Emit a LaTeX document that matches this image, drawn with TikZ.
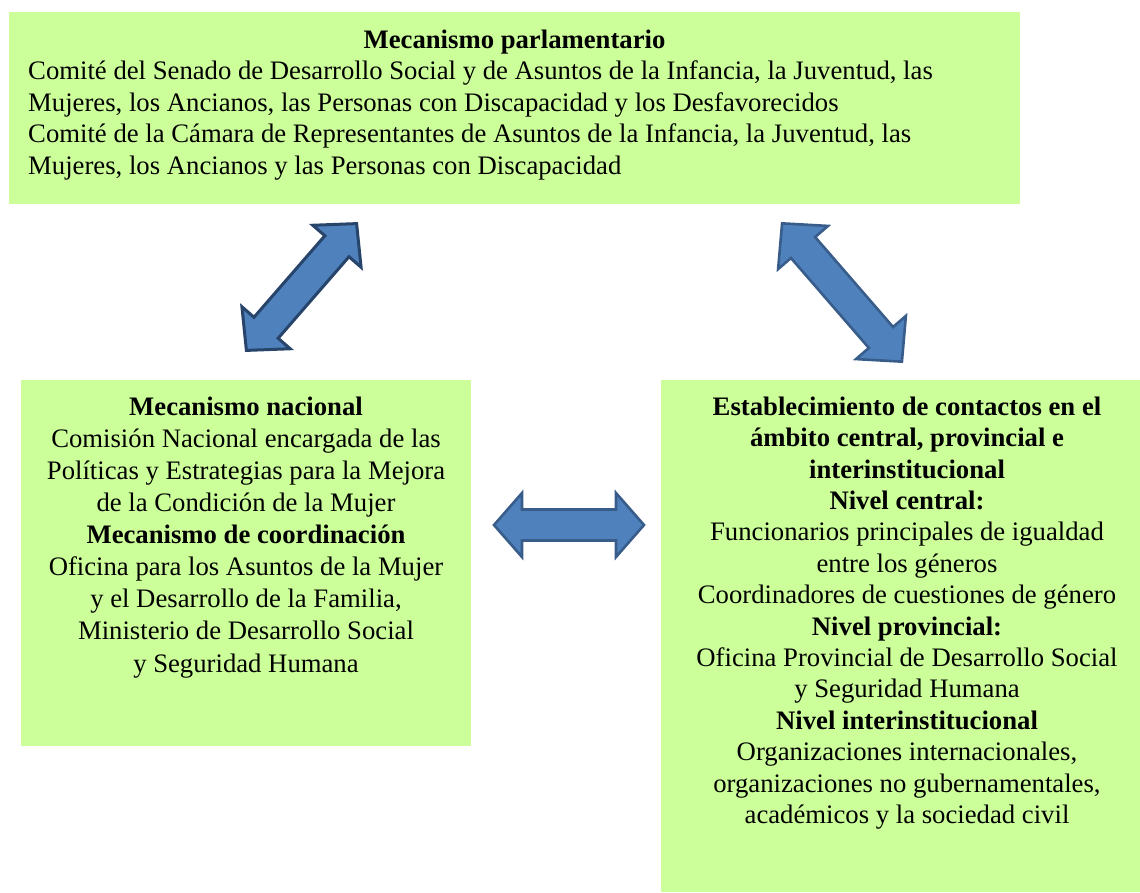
\documentclass[tikz,border=0pt]{standalone}
\usepackage{fontspec}
\setmainfont{Liberation Serif}
\definecolor{boxgreen}{HTML}{CCFF99}
\definecolor{arrowblue}{HTML}{4F81BD}
\definecolor{arrowedge}{HTML}{385D8A}
\definecolor{arrowedgedark}{HTML}{27446A}
\tikzset{
  greenbox/.style={fill=boxgreen, draw=none, inner sep=0pt, outer sep=0pt, anchor=north west},
  boxtext/.style={inner sep=0pt, align=center, anchor=north},
  blockarrow/.style={fill=arrowblue, draw=arrowedge, line width=2.6pt, line join=miter},
}
% #1 x, #2 y, #3 angle, #4 length, #5 head length, #6 head half width, #7 shaft half width, #8 extra style
\newcommand{\mydblarrow}[8]{%
  \begin{scope}[shift={(#1,#2)}, rotate=#3]
    \draw[blockarrow,#8] ({-#4/2},0) -- ({-#4/2+#5},#6) -- ({-#4/2+#5},#7) -- ({#4/2-#5},#7)
      -- ({#4/2-#5},#6) -- ({#4/2},0) -- ({#4/2-#5},-#6) -- ({#4/2-#5},-#7)
      -- ({-#4/2+#5},-#7) -- ({-#4/2+#5},-#6) -- cycle;
  \end{scope}}
\begin{document}
\begin{tikzpicture}[x=1pt, y=-1pt]
\useasboundingbox (0,0) rectangle (1140,892);

% boxes
\node[greenbox, minimum width=1011pt, minimum height=192pt] (topbox) at (9,12) {};
\node[greenbox, minimum width=450pt, minimum height=366pt] (leftbox) at (21,380) {};
\node[greenbox, minimum width=479pt, minimum height=512pt] (rightbox) at (661,380) {};

% top box text
\node[boxtext, font=\fontsize{26.7}{31.5}\selectfont] (toptitle) at (514.5,26)
  {\rule{0pt}{22pt}\textbf{Mecanismo parlamentario}};
\node[inner sep=0pt, align=left, anchor=north west, font=\fontsize{26.7}{31.5}\selectfont] (topbody) at (28,57.5)
  {\rule{0pt}{22pt}Comité del Senado de Desarrollo Social y de Asuntos de la Infancia, la Juventud, las\\
   Mujeres, los Ancianos, las Personas con Discapacidad y los Desfavorecidos\\
   Comité de la Cámara de Representantes de Asuntos de la Infancia, la Juventud, las\\
   Mujeres, los Ancianos y las Personas con Discapacidad};

% left box text
\node[boxtext, font=\fontsize{26.7}{32.1}\selectfont] (lefttext) at (246,393)
  {\rule{0pt}{22pt}\textbf{Mecanismo nacional}\\
   Comisión Nacional encargada de las\\
   Políticas y Estrategias para la Mejora\\
   de la Condición de la Mujer\\
   \textbf{Mecanismo de coordinación}\\
   Oficina para los Asuntos de la Mujer\\
   y el Desarrollo de la Familia,\\
   Ministerio de Desarrollo Social\\
   y Seguridad Humana};

% right box text
\node[boxtext, font=\fontsize{26.7}{31.4}\selectfont] (righttext) at (907,393)
  {\rule{0pt}{22pt}\textbf{Establecimiento de contactos en el}\\
   \textbf{ámbito central, provincial e}\\
   \textbf{interinstitucional}\\
   \textbf{Nivel central:}\\
   Funcionarios principales de igualdad\\
   entre los géneros\\
   Coordinadores de cuestiones de género\\
   \textbf{Nivel provincial:}\\
   Oficina Provincial de Desarrollo Social\\
   y Seguridad Humana\\
   \textbf{Nivel interinstitucional}\\
   Organizaciones internacionales,\\
   organizaciones no gubernamentales,\\
   académicos y la sociedad civil};

% block arrows
\mydblarrow{301.5}{287}{49}{168}{30}{32}{16}{draw=arrowedgedark, line width=3pt}
\mydblarrow{842}{292.5}{-49.1}{183}{32}{33}{16}{}
\mydblarrow{569}{525}{0}{150}{28}{32}{15.5}{}
\end{tikzpicture}
\end{document}
